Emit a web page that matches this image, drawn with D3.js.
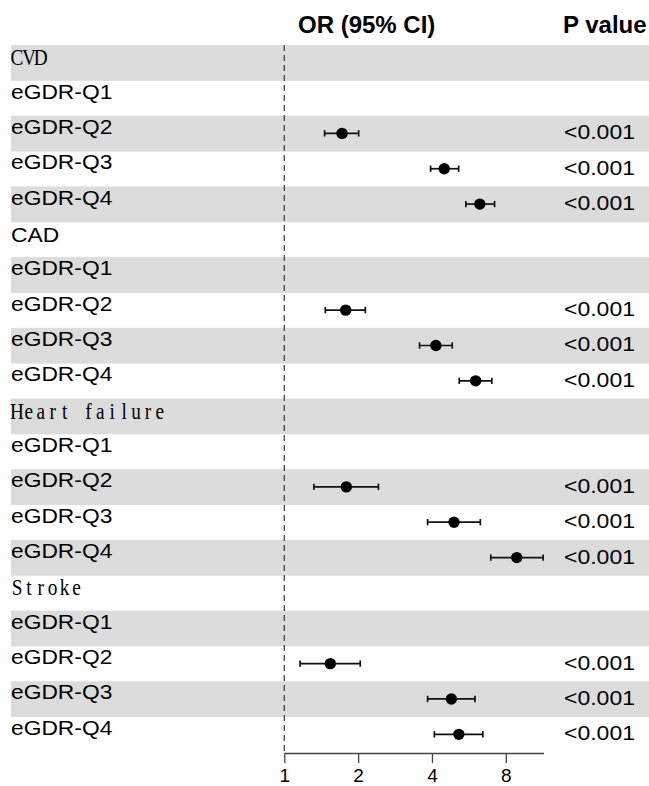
<!DOCTYPE html>
<html>
<head>
<meta charset="utf-8">
<script src="https://cdn.jsdelivr.net/npm/d3@7"></script>
<style>
  body { margin: 0; background: #fff; }
  text { font-family: "Liberation Sans", Arial, sans-serif; fill: #000; }
</style>
</head>
<body>
<div id="forest"></div>
<script>
// Data
const groups = ["CVD", "CAD", "Heart failure", "Stroke"];
const quartiles = ["eGDR-Q1", "eGDR-Q2", "eGDR-Q3", "eGDR-Q4"];
// Q1 is the reference, so it has no estimate
const orEst = [
  [null, 1.72, 4.49, 6.27],
  [null, 1.78, 4.15, 6.03],
  [null, 1.79, 4.92, 8.87],
  [null, 1.54, 4.80, 5.15]
];
const orLow = [
  [null, 1.46, 3.95, 5.50],
  [null, 1.47, 3.56, 5.17],
  [null, 1.32, 3.84, 6.95],
  [null, 1.16, 3.84, 4.09]
];
const orHigh = [
  [null, 2.01, 5.14, 7.20],
  [null, 2.14, 4.84, 7.02],
  [null, 2.42, 6.30, 11.36],
  [null, 2.04, 5.99, 6.45]
];
const pValues = [
  ["", "<0.001", "<0.001", "<0.001"],
  ["", "<0.001", "<0.001", "<0.001"],
  ["", "<0.001", "<0.001", "<0.001"],
  ["", "<0.001", "<0.001", "<0.001"]
];
const xTicks = [1, 2, 4, 8];
// in the original some group titles came out in a monospaced serif face
const serifGroups = ["CVD", "Heart failure", "Stroke"];

// flatten into rows: header row then one per quartile
var rows = [];
groups.forEach(function (g, gi) {
  rows.push({ label: g, header: true });
  quartiles.forEach(function (q, qi) {
    rows.push({
      label: q, header: false,
      est: orEst[gi][qi], lo: orLow[gi][qi], hi: orHigh[gi][qi],
      p: pValues[gi][qi]
    });
  });
});
var indexed = rows.map(function (d, i) { return { d: d, i: i }; });

const width = 649, height = 786;

const svg = d3.select("#forest").append("svg")
  .attr("width", width)
  .attr("height", height);

var x = d3.scaleLog().base(2).domain([1, 11.4]).range([284.3, 543.5]);
var y = d3.scaleBand().domain(d3.range(rows.length)).range([45, 752]);
var bw = y.bandwidth();

// zebra bands
svg.append("g").selectAll("rect")
  .data(rows)
  .enter().append("rect")
  .attr("x", 11)
  .attr("y", function (d, i) { return y(i); })
  .attr("width", width - 11)
  .attr("height", bw + 0.5)
  .attr("fill", function (d, i) { return i % 2 === 0 ? "#dcdcdc" : "none"; });

// headers
svg.append("text")
  .attr("x", 298).attr("y", 33)
  .style("font-weight", "bold").style("font-size", "24px")
  .text("OR (95% CI)");
svg.append("text")
  .attr("x", 563).attr("y", 33)
  .style("font-weight", "bold").style("font-size", "24px")
  .text("P value");

var labels = svg.append("g");

// serif group titles: one glyph centred in every 12px cell, squeezed a little
var sx = 0.84;
labels.selectAll("text.grp")
  .data(indexed.filter(function (r) { return r.d.header && serifGroups.indexOf(r.d.label) >= 0; }))
  .enter().append("text")
  .attr("class", "grp")
  .attr("transform", function (r) {
    return "translate(0," + (y(r.i) + bw / 2 + 2.5) + ") scale(" + sx + ",1)";
  })
  .attr("x", function (r) {
    return r.d.label.split("").map(function (c, k) { return ((11 + 6 + k * 11.9) / sx).toFixed(2); }).join(" ");
  })
  .attr("text-anchor", "middle")
  .style("font-family", "'Liberation Serif', 'DejaVu Serif', serif")
  .style("font-size", "23px")
  .text(function (r) { return r.d.label; });

// sans labels (quartiles and the CAD title)
labels.selectAll("text.q")
  .data(indexed.filter(function (r) { return !(r.d.header && serifGroups.indexOf(r.d.label) >= 0); }))
  .enter().append("text")
  .attr("class", "q")
  .attr("transform", function (r) {
    var dy = r.d.header ? 2.5 : 0.5;
    return "translate(11," + (y(r.i) + bw / 2 + dy) + ") scale(1.14,1)";
  })
  .style("font-size", "20px")
  .text(function (r) { return r.d.label; });

// p values
labels.selectAll("text.p")
  .data(indexed.filter(function (r) { return !r.d.header && r.d.p; }))
  .enter().append("text")
  .attr("class", "p")
  .attr("text-anchor", "end")
  .attr("transform", function (r) {
    return "translate(635," + (y(r.i) + bw / 2 + 6) + ") scale(1.15,1)";
  })
  .style("font-size", "20px")
  .text(function (r) { return r.d.p; });

// reference line at OR = 1
svg.append("line")
  .attr("x1", x(1)).attr("x2", x(1))
  .attr("y1", 45).attr("y2", 753)
  .attr("stroke", "#444")
  .attr("stroke-width", 1.3)
  .attr("stroke-dasharray", "6,4");

// x axis
var xAxis = d3.axisBottom(x)
  .tickValues(xTicks)
  .tickFormat(d3.format("d"))
  .tickSize(10)
  .tickPadding(6)
  .tickSizeOuter(0);

var ax = svg.append("g")
  .attr("transform", "translate(0,753)")
  .call(xAxis);
ax.select(".domain").attr("stroke", "#444").attr("stroke-width", 1.3);
ax.selectAll(".tick line").attr("stroke", "#444").attr("stroke-width", 1.3);
ax.selectAll(".tick text")
  .style("font-family", "'Liberation Sans', Arial, sans-serif")
  .style("font-size", "19px")
  .attr("fill", "#000");

// estimates with CI
var marks = svg.append("g").selectAll("g.mark")
  .data(indexed.filter(function (r) { return r.d.est != null; }))
  .enter().append("g")
  .attr("class", "mark")
  .attr("transform", function (r) { return "translate(0," + (y(r.i) + bw / 2) + ")"; });

marks.append("line")
  .attr("x1", function (r) { return x(r.d.lo); })
  .attr("x2", function (r) { return x(r.d.hi); })
  .attr("stroke", "#111").attr("stroke-width", 1.7);

marks.append("line")
  .attr("x1", function (r) { return x(r.d.lo); })
  .attr("x2", function (r) { return x(r.d.lo); })
  .attr("y1", -3.2).attr("y2", 3.2)
  .attr("stroke", "#111").attr("stroke-width", 1.7);

marks.append("line")
  .attr("x1", function (r) { return x(r.d.hi); })
  .attr("x2", function (r) { return x(r.d.hi); })
  .attr("y1", -3.2).attr("y2", 3.2)
  .attr("stroke", "#111").attr("stroke-width", 1.7);

marks.append("circle")
  .attr("cx", function (r) { return x(r.d.est); })
  .attr("r", 5.7)
  .attr("fill", "#000");
</script>
</body>
</html>
